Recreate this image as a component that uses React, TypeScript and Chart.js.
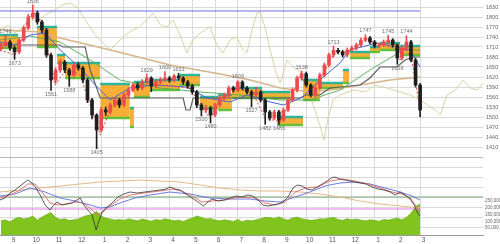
import React, { useEffect, useRef } from 'react';
import { Chart, registerables } from 'chart.js';
Chart.register(...registerables);
Chart.defaults.font.family = '"Liberation Sans", Arial, sans-serif';

// ---- axes ----
const monthTicks = [2, 7, 12, 17, 22, 27, 32, 37, 42, 47, 52, 57, 62, 67, 72, 77, 82, 87, 92];
const monthLabels = ['9', '10', '11', '12', '1', '2', '3', '4', '5', '6', '7', '8', '9', '10', '11', '12', '1', '2', '3'];
const priceGrid = [1830, 1800, 1770, 1740, 1710, 1680, 1650, 1620, 1590, 1560, 1530, 1500, 1470, 1440, 1410, 1380, 1350, 1320, 1290, 1260, 1230, 1200, 1170];
const priceLabels = [1830, 1800, 1770, 1740, 1710, 1680, 1650, 1620, 1590, 1560, 1530, 1500, 1470, 1440, 1410];
const volumeTicks = [250000, 200000, 150000, 100000, 50000];

// ---- candles (one every ~week) ----
const firstOpen = 1705;
const closes = [
  1716, 1725, 1707, 1695, 1731, 1767, 1800, 1812, 1785, 1761,
  1686, 1611, 1641, 1665, 1641, 1626, 1656, 1647, 1611, 1551,
  1506, 1461, 1521, 1515, 1536, 1551, 1536, 1566, 1581, 1596,
  1587, 1605, 1617, 1593, 1605, 1611, 1617, 1611, 1623, 1617,
  1605, 1593, 1575, 1536, 1521, 1527, 1506, 1536, 1557, 1566,
  1587, 1581, 1605, 1587, 1575, 1566, 1575, 1551, 1515, 1497,
  1515, 1491, 1521, 1551, 1581, 1617, 1630, 1596, 1566, 1587,
  1626, 1656, 1686, 1700, 1695, 1686, 1701, 1707, 1716, 1731,
  1737, 1725, 1713, 1716, 1725, 1731, 1716, 1677, 1707, 1725,
  1671, 1596, 1521,
];
const highs = [
  1722, 1746, 1731, 1712, 1737, 1773, 1808, 1836, 1818, 1790,
  1766, 1692, 1648, 1672, 1670, 1646, 1662, 1663, 1652, 1616,
  1556, 1510, 1528, 1530, 1542, 1558, 1556, 1572, 1588, 1602,
  1603, 1612, 1629, 1621, 1611, 1618, 1636, 1622, 1628, 1631,
  1621, 1610, 1598, 1580, 1541, 1535, 1532, 1541, 1563, 1572,
  1593, 1592, 1609, 1609, 1592, 1580, 1590, 1580, 1556, 1520,
  1521, 1520, 1527, 1557, 1587, 1623, 1638, 1635, 1600, 1593,
  1632, 1662, 1692, 1713, 1706, 1700, 1707, 1713, 1722, 1737,
  1747, 1742, 1730, 1722, 1731, 1745, 1735, 1720, 1713, 1744,
  1730, 1676, 1601,
];
const lows = [
  1698, 1710, 1700, 1673, 1690, 1726, 1762, 1794, 1778, 1752,
  1679, 1580, 1602, 1634, 1633, 1592, 1620, 1640, 1603, 1543,
  1494, 1405, 1455, 1505, 1509, 1530, 1528, 1531, 1560, 1575,
  1580, 1582, 1600, 1576, 1587, 1600, 1606, 1604, 1606, 1611,
  1598, 1586, 1568, 1528, 1503, 1514, 1482, 1500, 1530, 1551,
  1560, 1575, 1576, 1581, 1569, 1530, 1560, 1545, 1478, 1490,
  1492, 1478, 1486, 1515, 1545, 1575, 1610, 1590, 1560, 1560,
  1581, 1620, 1650, 1680, 1689, 1680, 1681, 1696, 1701, 1711,
  1726, 1719, 1707, 1707, 1711, 1719, 1710, 1658, 1671, 1701,
  1665, 1590, 1500,
];
const volumes = [
  105000, 112000, 98000, 120000, 130000, 118000, 125000, 140000, 110000, 132000,
  150000, 165000, 128000, 115000, 120000, 108000, 112000, 118000, 135000, 145000,
  150000, 175000, 140000, 125000, 118000, 110000, 115000, 108000, 120000, 112000,
  105000, 118000, 110000, 102000, 115000, 108000, 120000, 112000, 105000, 110000,
  100000, 115000, 125000, 140000, 130000, 118000, 122000, 110000, 105000, 112000,
  108000, 100000, 115000, 98000, 110000, 105000, 112000, 120000, 130000, 128000,
  122000, 135000, 118000, 110000, 125000, 132000, 120000, 115000, 108000, 112000,
  120000, 118000, 125000, 130000, 115000, 108000, 120000, 112000, 118000, 110000,
  105000, 112000, 108000, 102000, 115000, 110000, 118000, 125000, 112000, 130000,
  160000, 210000, 230000,
];

// ---- high / low annotations ----
const labelIdx = [1, 3, 7, 11, 15, 21, 32, 36, 39, 44, 46, 52, 55, 58, 61, 66, 73, 80, 85, 87, 89];
const labelText = ['1746', '1673', '1836', '1561', '1588', '1405', '1629', '1600', '1631', '1500', '1480', '1609', '1527', '1482', '1485', '1638', '1713', '1747', '1745', '1658', '1744'];
const labelSide = ['hi', 'lo', 'hi', 'lo', 'lo', 'lo', 'hi', 'hi', 'hi', 'lo', 'lo', 'hi', 'lo', 'lo', 'lo', 'hi', 'hi', 'hi', 'hi', 'lo', 'hi'];

// ---- price bands (boxes) ----
const boxStart = [-0.2, 7.9, 12.3, 14.1, 21.8, 28.3, 29.2, 32.7, 39.3, 43.7, 47.7, 50.7, 57.3, 60.6, 66.3, 70, 75.1, 76.6, 81, 83.2, 87.6];
const boxEnd = [3.8, 12.3, 14.1, 21.8, 28.3, 29.2, 32.7, 39.3, 43.7, 47.7, 50.7, 57.3, 63.5, 66.3, 70, 75.1, 76.4, 81, 83.2, 87.6, 92];
const boxTop = [1746, 1770, 1686, 1662, 1599, 1527, 1605, 1611, 1626, 1560, 1566, 1587, 1575, 1500, 1611, 1602, 1641, 1695, 1710, 1722, 1713];
const boxBottom = [1707, 1710, 1662, 1617, 1497, 1470, 1560, 1581, 1596, 1527, 1521, 1557, 1557, 1476, 1551, 1587, 1602, 1677, 1695, 1701, 1686];

// ---- price overlays ----
const longMaX = [-0.2, 8.6, 13, 24, 37.1, 48.1, 54.7, 61.3, 67.8, 72.2, 78.8, 85.4, 92];
const longMaY = [1761, 1755, 1737, 1701, 1656, 1629, 1611, 1587, 1575, 1581, 1596, 1611, 1620];
const stepX = [-0.2, 13, 13.6, 18.5, 19.6, 21.8, 40, 40.6, 41.5, 42.2, 65.7, 66.8, 70, 72.2, 78.8, 81, 83.2, 86.9, 88.7, 90.5, 92];
const stepY = [1716, 1716, 1710, 1710, 1641, 1557, 1557, 1521, 1521, 1557, 1557, 1566, 1566, 1587, 1596, 1617, 1650, 1650, 1671, 1680, 1680];
const blueMaX = [-0.2, 3.1, 6.4, 9.7, 13, 17.4, 20.7, 24, 28.3, 33.4, 40.8, 45.2, 50.3, 54, 59.1, 62, 66.3, 70, 74.4, 76.6, 82.5, 89.8, 92];
const blueMaY = [1725, 1716, 1746, 1752, 1701, 1647, 1596, 1551, 1587, 1596, 1590, 1557, 1545, 1566, 1545, 1536, 1560, 1611, 1662, 1701, 1722, 1701, 1650];
const greenMaX = [-0.2, 6.4, 13, 19.6, 26.1, 35, 43.7, 52.5, 61.3, 67.8, 74.4, 81, 88.3, 92];
const greenMaY = [1731, 1743, 1725, 1671, 1611, 1587, 1575, 1566, 1551, 1551, 1581, 1641, 1701, 1701];
const redX = [-0.2, 3.1, 4.2, 5.9, 7, 8.6, 10.8, 11.9, 13.4, 15.2, 17.4, 20.7, 21.8, 24, 27.2, 30.5, 34.9, 41.5, 43.7, 45.9, 48.1, 52.5, 55.8, 58, 61.3, 63.5, 65.7, 67.8, 70, 73.3, 76.6, 79.9, 83.2, 86.5, 87.6, 88.7, 90.2, 92];
const redY = [1701, 1686, 1716, 1791, 1815, 1791, 1671, 1596, 1626, 1641, 1626, 1491, 1446, 1521, 1566, 1596, 1596, 1587, 1536, 1497, 1551, 1587, 1557, 1497, 1485, 1551, 1626, 1575, 1611, 1695, 1695, 1731, 1719, 1707, 1671, 1707, 1671, 1521];
const oliveX = [-0.2, 1.6, 3.1, 4.6, 6.4, 8.1, 9.7, 11.9, 13.4, 15.2, 16.7, 18.5, 20.7, 22.8, 24, 25.7, 26.8, 28.8, 30.5, 32.3, 33.4, 35, 36.5, 37.8, 39.3, 40.8, 42.2, 43.7, 45.9, 47.4, 48.7, 50.3, 51.8, 52.9, 54, 55.1, 56.2, 56.9, 58, 59.1, 60.2, 61.3, 62.8, 64.1, 65.7, 66.7, 67.8, 68.9, 70, 70.9, 71.8, 72.9, 74.4, 77.3, 79.9, 82.1, 84.7, 87.6, 89.8, 92, 93.7, 95.3, 96.4, 97.9, 99.7, 101.4, 103, 104.5, 105.8];
const oliveY = [1761, 1776, 1752, 1767, 1797, 1785, 1806, 1821, 1836, 1842, 1830, 1791, 1746, 1716, 1701, 1725, 1740, 1761, 1770, 1797, 1812, 1776, 1770, 1791, 1746, 1692, 1731, 1752, 1770, 1716, 1692, 1731, 1740, 1707, 1692, 1761, 1812, 1815, 1767, 1701, 1641, 1602, 1671, 1650, 1635, 1596, 1566, 1521, 1476, 1431, 1497, 1551, 1566, 1581, 1575, 1596, 1587, 1575, 1566, 1551, 1536, 1521, 1506, 1566, 1581, 1611, 1587, 1581, 1602];
const refLineX = [-0.2, 92];
const refLineY = [1818, 1818];

// ---- oscillator panel ----
const oscBlackX = [-0.2, 0.9, 2, 3.1, 4.2, 5.3, 5.9, 6.8, 7.7, 8.6, 9.7, 10.8, 11.4, 12.3, 13.4, 14.5, 15.6, 16.7, 17.4, 18.2, 19.1, 20, 20.9, 21.3, 22.2, 23.3, 24.4, 25.7, 27, 28.3, 29.9, 31.6, 33.2, 34.9, 36.2, 37.1, 38.2, 39.3, 40.6, 41.9, 43.3, 44.4, 45.2, 46.3, 47.7, 49, 50.3, 51.6, 52.9, 54.2, 55.3, 56.4, 57.5, 58.6, 59.7, 60.8, 61.9, 63, 64.1, 65, 66.1, 67.2, 68.3, 69.4, 70.5, 71.6, 72.5, 73.3, 74.4, 75.5, 76.6, 77.7, 78.8, 80.1, 81.5, 82.8, 84.1, 85.4, 86.5, 87.6, 88.7, 89.8, 90.7, 91.3, 92];
const oscBlackY = [40, 44, 54, 60, 68, 76, 80, 74, 64, 50, 30, 20, 28, 36, 30, 32, 34, 40, 44, 30, 20, 10, -20, -8, 16, 26, 34, 46, 52, 56, 54, 56, 58, 60, 62, 66, 62, 60, 52, 44, 36, 28, 34, 42, 38, 40, 44, 48, 46, 50, 48, 40, 30, 28, 30, 32, 36, 46, 64, 70, 68, 62, 60, 66, 72, 78, 84, 86, 82, 80, 78, 76, 74, 72, 66, 62, 60, 56, 50, 56, 50, 42, 30, 16, 8];
const oscRedX = [-0.2, 2, 4.2, 5.9, 7.5, 9, 10.8, 12.5, 14.3, 16.3, 18, 19.6, 21.1, 22.4, 23.9, 26.1, 28.3, 31.6, 34.9, 37.6, 39.7, 41.9, 44.1, 46.3, 49.2, 52.5, 55.8, 58, 60.2, 62.4, 64.6, 66.8, 69.6, 72.2, 74.9, 77.7, 80.6, 83.2, 85.8, 88, 89.8, 91.1, 92];
const oscRedY = [44, 50, 60, 72, 72, 56, 34, 30, 32, 36, 34, 24, 10, 16, 28, 42, 50, 54, 58, 62, 58, 48, 36, 38, 40, 46, 44, 34, 30, 36, 56, 64, 66, 78, 82, 78, 72, 64, 56, 52, 44, 28, 16];
const oscBlueX = [-0.2, 3.1, 6.4, 9.7, 13, 16.3, 19.6, 21.8, 23.9, 26.1, 29.4, 32.7, 37.1, 41.5, 45.9, 50.3, 54.7, 58, 61.3, 64.6, 67.8, 71.1, 74.4, 77.7, 81, 84.3, 87.6, 90.2, 92];
const oscBlueY = [48, 52, 64, 56, 44, 38, 30, 24, 26, 34, 44, 50, 56, 52, 44, 42, 42, 38, 36, 46, 56, 68, 74, 76, 72, 64, 56, 48, 40];
const oscTanX = [-0.2, 4.2, 8.6, 13, 17.4, 21.8, 26.1, 30.5, 34.9, 39.3, 43.7, 48.1, 52.5, 56.9, 61.3, 65.7, 70, 74.4, 78.8, 83.2, 87.6, 92];
const oscTanY = [56, 60, 64, 68, 72, 76, 78, 80, 78, 76, 70, 64, 60, 58, 58, 56, 52, 46, 38, 32, 28, 24];
const oscGreenX = [-0.2, 105.8];
const oscGreenY = [46, 46];
const oscPinkX = [-0.2, 92];
const oscPinkY = [22, 22];

const pts = (xs: number[], ys: number[]) => xs.map((x, i) => ({ x, y: ys[i] }));

const hiLoPlugin = {
  id: 'hiLoLabels',
  afterLayout(chart: any) {
    // let the zero-width volume axis draw its labels into the margin on its right
    const s = chart.scales.yv;
    if (s) s.right = chart.width;
  },
  afterDatasetsDraw(chart: any) {
    const { ctx, scales } = chart;
    const xs = scales.x;
    const ys = scales.y;
    ctx.save();
    ctx.font = '5.5px "Liberation Sans", Arial, sans-serif';
    ctx.fillStyle = '#707070';
    ctx.textAlign = 'center';
    labelIdx.forEach((idx, k) => {
      const px = xs.getPixelForValue(idx);
      if (labelSide[k] === 'hi') {
        ctx.textBaseline = 'bottom';
        ctx.fillText(labelText[k], px, ys.getPixelForValue(highs[idx]) - 1);
      } else {
        ctx.textBaseline = 'top';
        ctx.fillText(labelText[k], px, ys.getPixelForValue(lows[idx]) + 1);
      }
    });
    ctx.restore();
  },
};

export default function App() {
  const ref = useRef<HTMLCanvasElement>(null);
  useEffect(() => {
    const opens = closes.map((_, i) => (i === 0 ? firstOpen : closes[i - 1]));
    const candleColors = closes.map((c, i) => (c >= opens[i] ? '#ee4a4e' : '#1e1e1e'));
    const line = (data: any[], yAxisID: string, color: string, width: number, order: number, extra: any = {}) => ({
      type: 'line', data, yAxisID, borderColor: color, borderWidth: width, pointRadius: 0, fill: false, order, ...extra,
    });
    const boxSets = boxStart.flatMap((s, k) => [
      line([{ x: s, y: boxTop[k] }, { x: boxEnd[k], y: boxTop[k] }], 'y', '#2fb39b', 2.5, 70, {
        fill: '+1', backgroundColor: 'rgba(247,168,38,0.92)',
      }),
      line([{ x: s, y: boxBottom[k] }, { x: boxEnd[k], y: boxBottom[k] }], 'y', '#66bf3c', 2.5, 69),
    ]);
    const datasets: any[] = [
      line(volumes.map((v, i) => ({ x: i, y: v })), 'yv', '#5f9f12', 0.5, 100, { fill: 'origin', backgroundColor: '#80c41d' }),
      line(pts(oscGreenX, oscGreenY), 'yo', '#7aaa7a', 1, 95),
      line(pts(oscPinkX, oscPinkY), 'yo', '#e27be2', 1, 95),
      line(pts(oscTanX, oscTanY), 'yo', '#e6b888', 1, 94),
      line(pts(oscBlueX, oscBlueY), 'yo', '#5b6fe0', 0.9, 93),
      line(pts(oscRedX, oscRedY), 'yo', '#e36a6a', 0.9, 92),
      line(pts(oscBlackX, oscBlackY), 'yo', '#333333', 0.8, 91),
      line(pts(oliveX, oliveY), 'y', '#d3cf9c', 0.9, 80),
      ...boxSets,
      line(pts(refLineX, refLineY), 'y', '#6d6df0', 1, 60),
      line(pts(longMaX, longMaY), 'y', '#d8b48a', 1.6, 55),
      line(pts(stepX, stepY), 'y', '#5f5f5f', 1.2, 54),
      line(pts(greenMaX, greenMaY), 'y', '#4eaa50', 0.9, 53),
      line(pts(blueMaX, blueMaY), 'y', '#4466d8', 1, 52),
      line(pts(redX, redY), 'y', '#e0403c', 1, 40, { borderDash: [2, 2] }),
      {
        type: 'bar', yAxisID: 'y', order: 20, grouped: false, barThickness: 1,
        data: closes.map((_, i) => ({ x: i, y: [lows[i], highs[i]] })),
        backgroundColor: candleColors,
      },
      {
        type: 'bar', yAxisID: 'y', order: 10, grouped: false, barThickness: 3, minBarLength: 1,
        data: closes.map((c, i) => ({ x: i, y: [opens[i], c] })),
        backgroundColor: candleColors,
      },
    ];
    const chart = new Chart(ref.current as HTMLCanvasElement, {
      type: 'line',
      data: { datasets },
      plugins: [hiLoPlugin],
      options: {
        animation: false,
        responsive: false,
        maintainAspectRatio: false,
        layout: { padding: 0 },
        plugins: { legend: { display: false }, tooltip: { enabled: false } },
        elements: { point: { radius: 0 }, line: { tension: 0 } },
        scales: {
          x: {
            type: 'linear', min: -0.2, max: 105.8, offset: false,
            grid: { color: '#dadada', drawTicks: false, offset: false },
            border: { color: '#9a9a9a' },
            ticks: {
              font: { size: 6.5 }, color: '#555', padding: 1, autoSkip: false, maxRotation: 0, labelOffset: 3.5,
              callback: (_v: any, i: number) => monthLabels[i] ?? '',
            },
            afterBuildTicks: (s: any) => { s.ticks = monthTicks.map((v) => ({ value: v })); },
            afterFit: (s: any) => { s.height = 9; s.paddingLeft = 0; s.paddingRight = 0; },
          },
          yv: {
            type: 'linear', position: 'right', weight: 0, min: 0, max: 1730000,
            grid: { display: false, drawTicks: false }, border: { display: false },
            ticks: { font: { size: 4.5 }, color: '#666', padding: 2 },
            afterBuildTicks: (s: any) => { s.ticks = volumeTicks.map((v) => ({ value: v })); },
            afterFit: (s: any) => { s.width = 0; s.paddingTop = 0; s.paddingBottom = 0; },
          },
          y: {
            type: 'linear', position: 'right', weight: 1, min: 1146, max: 1851, beginAtZero: false,
            grid: {
              color: (c: any) => (c.tick && c.tick.value === 1380 ? '#b8b8b8' : '#dadada'),
              drawTicks: false,
            },
            border: { display: false },
            ticks: {
              font: { size: 5.5 }, color: '#666', padding: 3,
              callback: (v: any) => (priceLabels.indexOf(v) >= 0 ? String(v) : ''),
            },
            afterBuildTicks: (s: any) => { s.ticks = priceGrid.map((v) => ({ value: v })); },
            afterFit: (s: any) => { s.width = 17; s.paddingTop = 0; s.paddingBottom = 0; },
          },
          yo: { type: 'linear', display: false, min: -30, max: 440 },
        },
      } as any,
    } as any);
    return () => chart.destroy();
  }, []);
  return (
    <div style={{ position: 'fixed', left: 0, top: 0, width: 500, height: 244, background: '#fff' }}>
      <canvas ref={ref} width={500} height={244} style={{ display: 'block', width: 500, height: 244 }} />
    </div>
  );
}
